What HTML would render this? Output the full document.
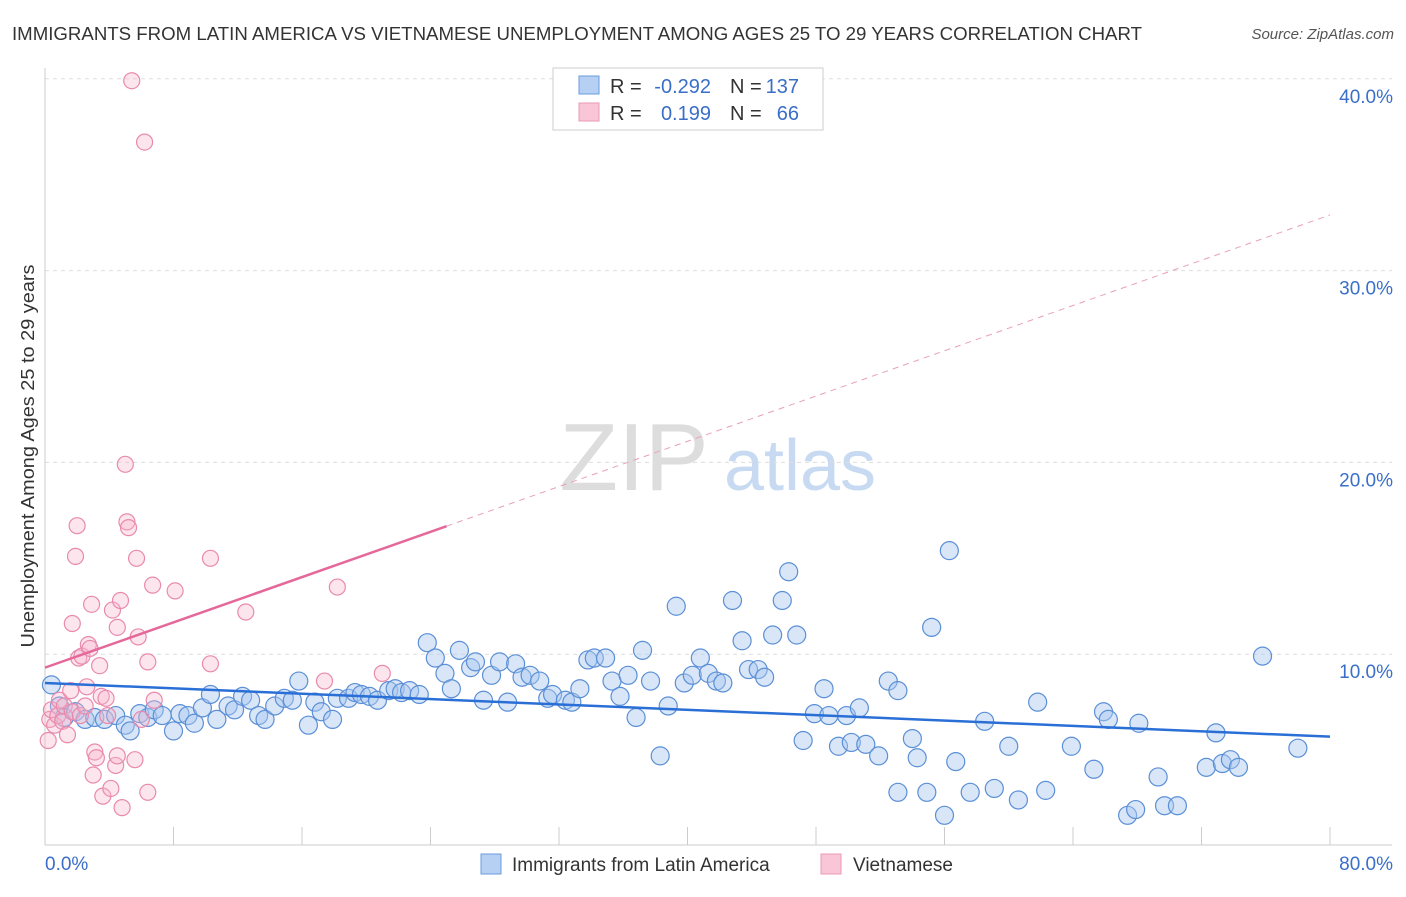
<!DOCTYPE html>
<html><head><meta charset="utf-8">
<style>
body{margin:0;background:#fff;font-family:"Liberation Sans",sans-serif;}
svg text{font-family:"Liberation Sans",sans-serif;}
</style></head>
<body>
<svg id="chart" width="1406" height="892" xmlns="http://www.w3.org/2000/svg">
<text x="12" y="40" font-size="18" fill="#333" textLength="1130" lengthAdjust="spacingAndGlyphs">IMMIGRANTS FROM LATIN AMERICA VS VIETNAMESE UNEMPLOYMENT AMONG AGES 25 TO 29 YEARS CORRELATION CHART</text>
<text x="1394" y="39" font-size="15" fill="#555" font-style="italic" text-anchor="end">Source: ZipAtlas.com</text>
<text x="634" y="490" font-size="96" fill="#ddd" font-family="Liberation Serif" text-anchor="middle">ZIP</text>
<text x="800" y="490" font-size="72" fill="#c8daf2" text-anchor="middle">atlas</text>
<text transform="translate(34,456) rotate(-90)" font-size="18" fill="#333" text-anchor="middle" textLength="383" lengthAdjust="spacingAndGlyphs">Unemployment Among Ages 25 to 29 years</text>
<g id="grid"></g>
<g id="axes"></g>
<g id="pts"></g>
<g id="trends"></g>
<g>
<rect x="553" y="68" width="270" height="62" fill="#fff" stroke="#ccc"/>
<rect x="579" y="76" width="20" height="18" fill="#b6d0f3" stroke="#6b9ddf"/>
<rect x="579" y="103" width="20" height="18" fill="#f9c6d7" stroke="#ea98b6"/>
<text x="610" y="93" font-size="20" fill="#333">R =</text>
<text x="711" y="93" font-size="20" fill="#3a6fc9" text-anchor="end">-0.292</text>
<text x="730" y="93" font-size="20" fill="#333">N =</text>
<text x="799" y="93" font-size="20" fill="#3a6fc9" text-anchor="end">137</text>
<text x="610" y="120" font-size="20" fill="#333">R =</text>
<text x="711" y="120" font-size="20" fill="#3a6fc9" text-anchor="end">0.199</text>
<text x="730" y="120" font-size="20" fill="#333">N =</text>
<text x="799" y="120" font-size="20" fill="#3a6fc9" text-anchor="end">66</text>
</g>
<g>
<rect x="481" y="854" width="20" height="20" fill="#b6d0f3" stroke="#6b9ddf"/>
<text x="512" y="871" font-size="19" fill="#333">Immigrants from Latin America</text>
<rect x="821" y="854" width="20" height="20" fill="#f9c6d7" stroke="#ea98b6"/>
<text x="853" y="871" font-size="19" fill="#333">Vietnamese</text>
</g>
</svg>
<script>
const blueX=[0.4,0.9,1.2,1.9,2.5,3.1,3.7,4.4,5.0,5.3,5.9,6.4,6.8,7.3,8.0,8.4,8.9,9.3,9.8,10.3,10.7,11.4,11.8,12.3,12.8,13.3,13.7,14.3,14.9,15.4,15.8,16.4,16.8,17.2,17.9,18.2,18.9,19.3,19.7,20.2,20.7,21.4,21.8,22.2,22.7,23.3,23.8,24.3,24.9,25.3,25.8,26.5,26.8,27.3,27.8,28.3,28.8,29.3,29.7,30.2,30.8,31.3,31.6,32.4,32.8,33.3,33.8,34.2,34.9,35.3,35.8,36.3,36.8,37.2,37.7,38.3,38.8,39.3,39.8,40.3,40.8,41.3,41.8,42.2,42.8,43.4,43.8,44.4,44.8,45.3,45.9,46.3,46.8,47.2,47.9,48.5,48.8,49.4,49.9,50.2,50.7,51.1,51.9,52.5,53.1,53.1,54.0,54.3,54.9,55.2,56.0,56.3,56.7,57.6,58.5,59.1,60.0,60.6,61.8,62.3,63.9,65.3,65.9,66.2,67.4,67.9,68.1,69.3,69.7,70.5,72.3,72.9,73.3,73.8,74.3,75.8,78.0];
const blueY=[8.4,7.3,6.7,7.0,6.6,6.7,6.6,6.8,6.3,6.0,6.9,6.7,7.1,6.8,6.0,6.9,6.8,6.4,7.2,7.9,6.6,7.3,7.1,7.8,7.6,6.8,6.6,7.3,7.7,7.6,8.6,6.3,7.5,7.0,6.6,7.7,7.7,8.0,7.9,7.8,7.6,8.1,8.2,8.0,8.1,7.9,10.6,9.8,9.0,8.2,10.2,9.3,9.6,7.6,8.9,9.6,7.5,9.5,8.8,8.9,8.6,7.7,7.9,7.6,7.5,8.2,9.7,9.8,9.8,8.6,7.8,8.9,6.7,10.2,8.6,4.7,7.3,12.5,8.5,8.9,9.8,9.0,8.6,8.5,12.8,10.7,9.2,9.2,8.8,11.0,12.8,14.3,11.0,5.5,6.9,8.2,6.8,5.2,6.8,5.4,7.2,5.3,4.7,8.6,2.8,8.1,5.6,4.6,2.8,11.4,1.6,15.4,4.4,2.8,6.5,3.0,5.2,2.4,7.5,2.9,5.2,4.0,7.0,6.6,1.6,1.9,6.4,3.6,2.1,2.1,4.1,5.9,4.3,4.5,4.1,9.9,5.1];
const pinkX=[0.2,0.3,0.4,0.6,0.8,0.9,1.1,1.2,1.4,1.6,1.7,1.7,1.9,2.0,2.1,2.2,2.3,2.5,2.6,2.7,2.8,2.9,3.0,3.1,3.2,3.4,3.5,3.6,3.8,3.9,4.1,4.2,4.4,4.5,4.5,4.7,4.8,5.0,5.1,5.2,5.4,5.6,5.7,5.8,6.0,6.2,6.4,6.4,6.7,6.8,8.1,10.3,10.3,12.5,17.4,18.2,21.0];
const pinkY=[5.5,6.6,7.1,6.3,6.8,7.6,6.5,7.3,5.8,8.1,7.0,11.6,15.1,16.7,9.8,6.8,9.9,7.3,8.3,10.5,10.3,12.6,3.7,4.9,4.6,9.4,7.8,2.6,7.7,6.8,3.0,12.3,4.2,4.7,11.4,12.8,2.0,19.9,16.9,16.6,39.9,4.5,15.0,10.9,6.6,36.7,2.8,9.6,13.6,7.6,13.3,15.0,9.5,12.2,8.6,13.5,9.0];
const blueTrend=[8.5,5.7];
const pinkTrend=[9.3,32.9];
const pinkSolidEnd=25;
const yTicks=[10,20,30,40];
const xTicks=[0,8,16,24,32,40,48,56,64,72,80];
const NS="http://www.w3.org/2000/svg";
const sx=v=>45+v/80*1285, sy=v=>846-v*19.18;
function mk(tag,at,parent){const e=document.createElementNS(NS,tag);for(const k in at)e.setAttribute(k,at[k]);parent.appendChild(e);return e;}
const grid=document.getElementById('grid'),axes=document.getElementById('axes'),pts=document.getElementById('pts'),tr=document.getElementById('trends');
yTicks.forEach(t=>{
 const l=mk('line',{x1:45,x2:1392,y1:sy(t),y2:sy(t),stroke:'#ddd','stroke-dasharray':'4,4'},grid);
 
 
 const tx=mk('text',{x:1393,y:sy(t)+24,'font-size':19,fill:'#3a6fc9','text-anchor':'end'},grid);
 tx.textContent=t.toFixed(1)+'%';
 
 
});
const xa=mk('line',{x1:45,x2:1392,y1:845,y2:845,stroke:'#ccc'},axes);


const ya=mk('line',{x1:45,x2:45,y1:68,y2:845,stroke:'#ccc'},axes);


xTicks.forEach(t=>{
 const l=mk('line',{x1:sx(t),x2:sx(t),y1:827,y2:845,stroke:'#ccc'},axes);
 
 
});
[[0,'0.0%','start',45],[80,'80.0%','end',1393]].forEach(a=>{
 const tx=mk('text',{x:a[3],y:870,'font-size':19,fill:'#3a6fc9','text-anchor':a[2]},axes);
 tx.textContent=a[1];
 
 
});
blueX.forEach((x,i)=>{
 const c=mk('circle',{cx:sx(x),cy:sy(blueY[i]),r:9,fill:'rgba(168,200,240,0.45)',stroke:'#5b8fd6','stroke-width':1.2},pts);
 
 
});
pinkX.forEach((x,i)=>{
 const c=mk('circle',{cx:sx(x),cy:sy(pinkY[i]),r:8,fill:'rgba(246,180,203,0.35)',stroke:'#e98aad','stroke-width':1.2},pts);
 
 
});
const bt=mk('line',{x1:sx(0),y1:sy(blueTrend[0]),x2:sx(80),y2:sy(blueTrend[1]),stroke:'#2a6fd6','stroke-width':2.5},tr);


const pAt=x=>pinkTrend[0]+(pinkTrend[1]-pinkTrend[0])*x/80;
const pd=mk('line',{x1:sx(pinkSolidEnd),y1:sy(pAt(pinkSolidEnd)),x2:sx(80),y2:sy(pinkTrend[1]),stroke:'#e8a0b8','stroke-width':1,'stroke-dasharray':'6,5'},tr);


const pt=mk('line',{x1:sx(0),y1:sy(pinkTrend[0]),x2:sx(pinkSolidEnd),y2:sy(pAt(pinkSolidEnd)),stroke:'#e5689a','stroke-width':2.5},tr);


</script>
</body></html>
